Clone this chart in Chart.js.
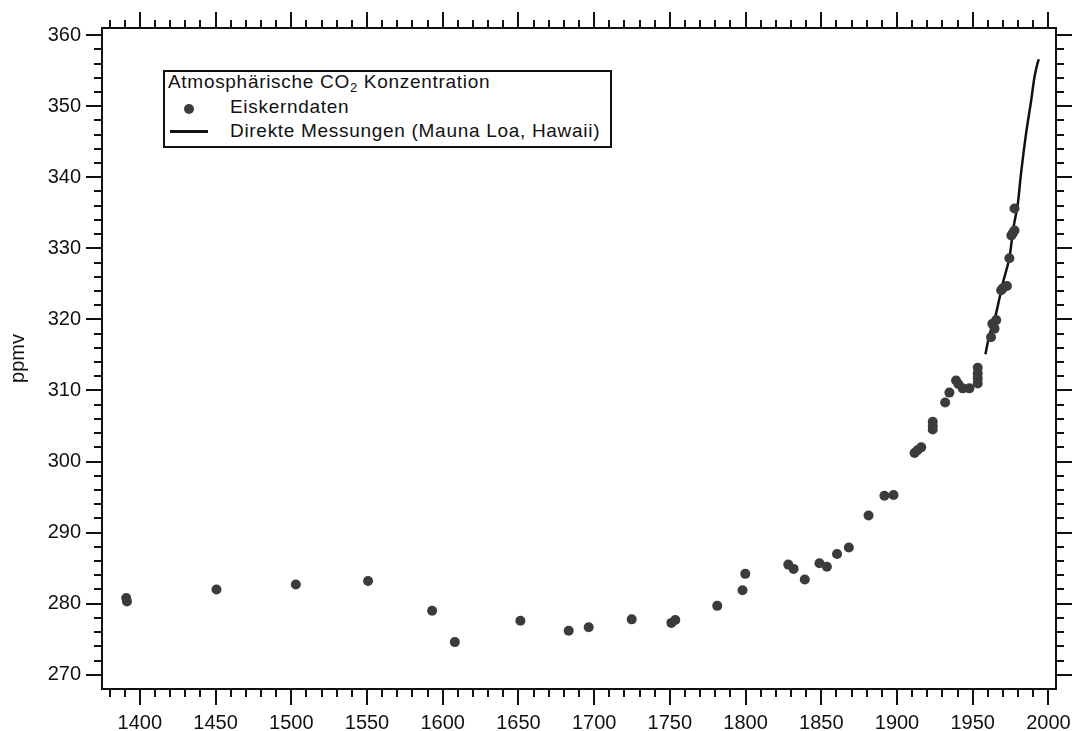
<!DOCTYPE html>
<html lang="de">
<head>
<meta charset="utf-8">
<title>Atmosphärische CO2 Konzentration</title>
<script src="https://cdn.jsdelivr.net/npm/chart.js@4"></script>
<style>
    body { margin: 0; background: #fff; }
    #wrap { position: relative; width: 1075px; height: 731px; font-family: "Liberation Sans", Arial, Helvetica, sans-serif; color: #111; }
    #legend {
        position: absolute; left: 163px; top: 70px; width: 449px; height: 78px;
        box-sizing: border-box; border: 2px solid #111; background: #fff;
        font-size: 19px; letter-spacing: 0.7px;
    }
    #legend .row { position: absolute; line-height: 24px; white-space: nowrap; }
    #legend sub { font-size: 13px; vertical-align: -4px; line-height: 0; }
    #legend .dot { position: absolute; left: 19px; top: 32px; width: 10px; height: 10px; border-radius: 50%; background: #3b3b3b; }
    #legend .line { position: absolute; left: 5px; top: 58px; width: 38px; height: 2.5px; background: #111; }
</style>
</head>
<body>
<div id="wrap">
    <canvas id="co2Chart" width="1075" height="731"></canvas>
    <div id="legend">
        <div class="row" style="left:3px; top:-2px;">Atmosphärische CO<sub>2</sub> Konzentration</div>
        <span class="dot"></span>
        <div class="row" style="left:65px; top:23px;">Eiskerndaten</div>
        <span class="line"></span>
        <div class="row" style="left:65px; top:47px;">Direkte Messungen (Mauna Loa, Hawaii)</div>
    </div>
</div>
<script>
// Eiskerndaten (year, ppmv)
const iceYears = [1391, 1391.5, 1450.6, 1503, 1550.7, 1593, 1608, 1651.3, 1683.2, 1696.4,
    1724.8, 1751, 1753.6, 1781.3, 1798, 1799.8, 1828.2, 1831.7, 1839.1, 1848.8,
    1853.7, 1860.4, 1868.2, 1881.2, 1891.7, 1897.7, 1911.6, 1913.5, 1916, 1923.6,
    1923.6, 1923.6, 1931.8, 1934.6, 1939, 1940.5, 1943.4, 1947.8, 1953.3, 1953.3,
    1953.3, 1953.3, 1962.1, 1963, 1964.4, 1965.5, 1968.8, 1970, 1972.6, 1974.2,
    1975.5, 1976.4, 1977.6, 1977.6];
const icePpm = [280.8, 280.3, 282.0, 282.7, 283.2, 279.0, 274.6, 277.6, 276.2, 276.7,
    277.8, 277.3, 277.7, 279.7, 281.9, 284.2, 285.5, 284.9, 283.4, 285.7,
    285.2, 287.0, 287.9, 292.4, 295.2, 295.3, 301.2, 301.6, 302.0, 305.6,
    305.0, 304.5, 308.3, 309.7, 311.4, 310.9, 310.3, 310.3, 313.2, 312.4,
    311.7, 311.0, 317.5, 319.4, 318.7, 319.9, 324.1, 324.4, 324.7, 328.6,
    331.8, 332.1, 332.5, 335.6];

// Direkte Messungen (Mauna Loa)
const mloYears = [1958.4, 1961, 1964, 1967.7, 1970, 1974.3, 1977, 1979.8, 1981.9, 1985.2, 1988.6, 1990.8, 1992.5, 1993.6];
const mloPpm = [315.1, 317.8, 319.6, 323.0, 325.2, 328.8, 333.0, 336.3, 340.5, 346.1, 350.8, 354.1, 355.8, 356.6];

// Axis ticks
const xTickLabels = [1400, 1450, 1500, 1550, 1600, 1650, 1700, 1750, 1800, 1850, 1900, 1950, 2000];
const yTickLabels = [270, 280, 290, 300, 310, 320, 330, 340, 350, 360];
const xMinorStep = 10;
const yMinorStep = 2;

const AXIS_COLOR = '#111';

// Boxed frame with outward major/minor ticks on all four sides
const frameTicks = {
    id: 'frameTicks',
    afterDraw(chart) {
        const { ctx, chartArea: a, scales: { x, y } } = chart;
        ctx.save();
        ctx.strokeStyle = AXIS_COLOR;
        ctx.lineWidth = 2;
        ctx.strokeRect(a.left, a.top, a.right - a.left, a.bottom - a.top);

        ctx.beginPath();
        const xFirst = xTickLabels[0] - 2 * xMinorStep;
        const xLast = xTickLabels[xTickLabels.length - 1];
        for (let v = xFirst; v <= xLast; v += xMinorStep) {
            const px = Math.round(x.getPixelForValue(v));
            const len = xTickLabels.includes(v) ? 16 : 8;
            ctx.moveTo(px, a.bottom);
            ctx.lineTo(px, a.bottom + len);
            ctx.moveTo(px, a.top);
            ctx.lineTo(px, a.top - len);
        }
        const yFirst = yTickLabels[0];
        const yLast = yTickLabels[yTickLabels.length - 1];
        for (let v = yFirst; v <= yLast; v += yMinorStep) {
            const py = Math.round(y.getPixelForValue(v));
            const len = yTickLabels.includes(v) ? 16 : 8;
            ctx.moveTo(a.left, py);
            ctx.lineTo(a.left - len, py);
            ctx.moveTo(a.right, py);
            ctx.lineTo(a.right + len, py);
        }
        ctx.stroke();
        ctx.restore();
    }
};

Chart.defaults.font.family = '"Liberation Sans", Arial, Helvetica, sans-serif';
Chart.defaults.color = AXIS_COLOR;

const canvas = document.getElementById('co2Chart');
const co2Chart = new Chart(canvas, {
    type: 'scatter',
    data: {
        datasets: [{
            label: 'Eiskerndaten',
            data: iceYears.map((yr, i) => ({ x: yr, y: icePpm[i] })),
            pointRadius: 5,
            pointHoverRadius: 5,
            backgroundColor: '#3b3b3b',
            borderWidth: 0
        }, {
            label: 'Direkte Messungen (Mauna Loa, Hawaii)',
            data: mloYears.map((yr, i) => ({ x: yr, y: mloPpm[i] })),
            showLine: true,
            borderColor: '#111',
            borderWidth: 2.5,
            pointRadius: 0,
            cubicInterpolationMode: 'monotone'
        }]
    },
    options: {
        responsive: false,
        animation: false,
        layout: { padding: { top: 28, right: 19, left: 0, bottom: 0 } },
        plugins: {
            legend: { display: false },
            tooltip: { enabled: false }
        },
        scales: {
            x: {
                type: 'linear',
                min: 1375,
                max: 2005,
                afterBuildTicks: scale => { scale.ticks = xTickLabels.map(v => ({ value: v })); },
                afterFit: scale => {
                    scale.height = 42;
                    scale.paddingLeft = 0;
                    scale.paddingRight = 0;
                },
                grid: { display: false, drawTicks: false },
                border: { display: false },
                ticks: { padding: 22, font: { size: 20 }, maxRotation: 0, autoSkip: false, callback: v => String(v) }
            },
            y: {
                min: 268,
                max: 361,
                afterBuildTicks: scale => { scale.ticks = yTickLabels.map(v => ({ value: v })); },
                afterFit: scale => {
                    scale.width = 102;
                    scale.paddingTop = 0;
                    scale.paddingBottom = 0;
                },
                grid: { display: false, drawTicks: false },
                border: { display: false },
                ticks: { padding: 21, font: { size: 20 }, autoSkip: false, callback: v => String(v) },
                title: { display: true, text: 'ppmv', font: { size: 20 }, padding: { top: 6, bottom: 0 } }
            }
        }
    },
    plugins: [frameTicks]
});
</script>
</body>
</html>
